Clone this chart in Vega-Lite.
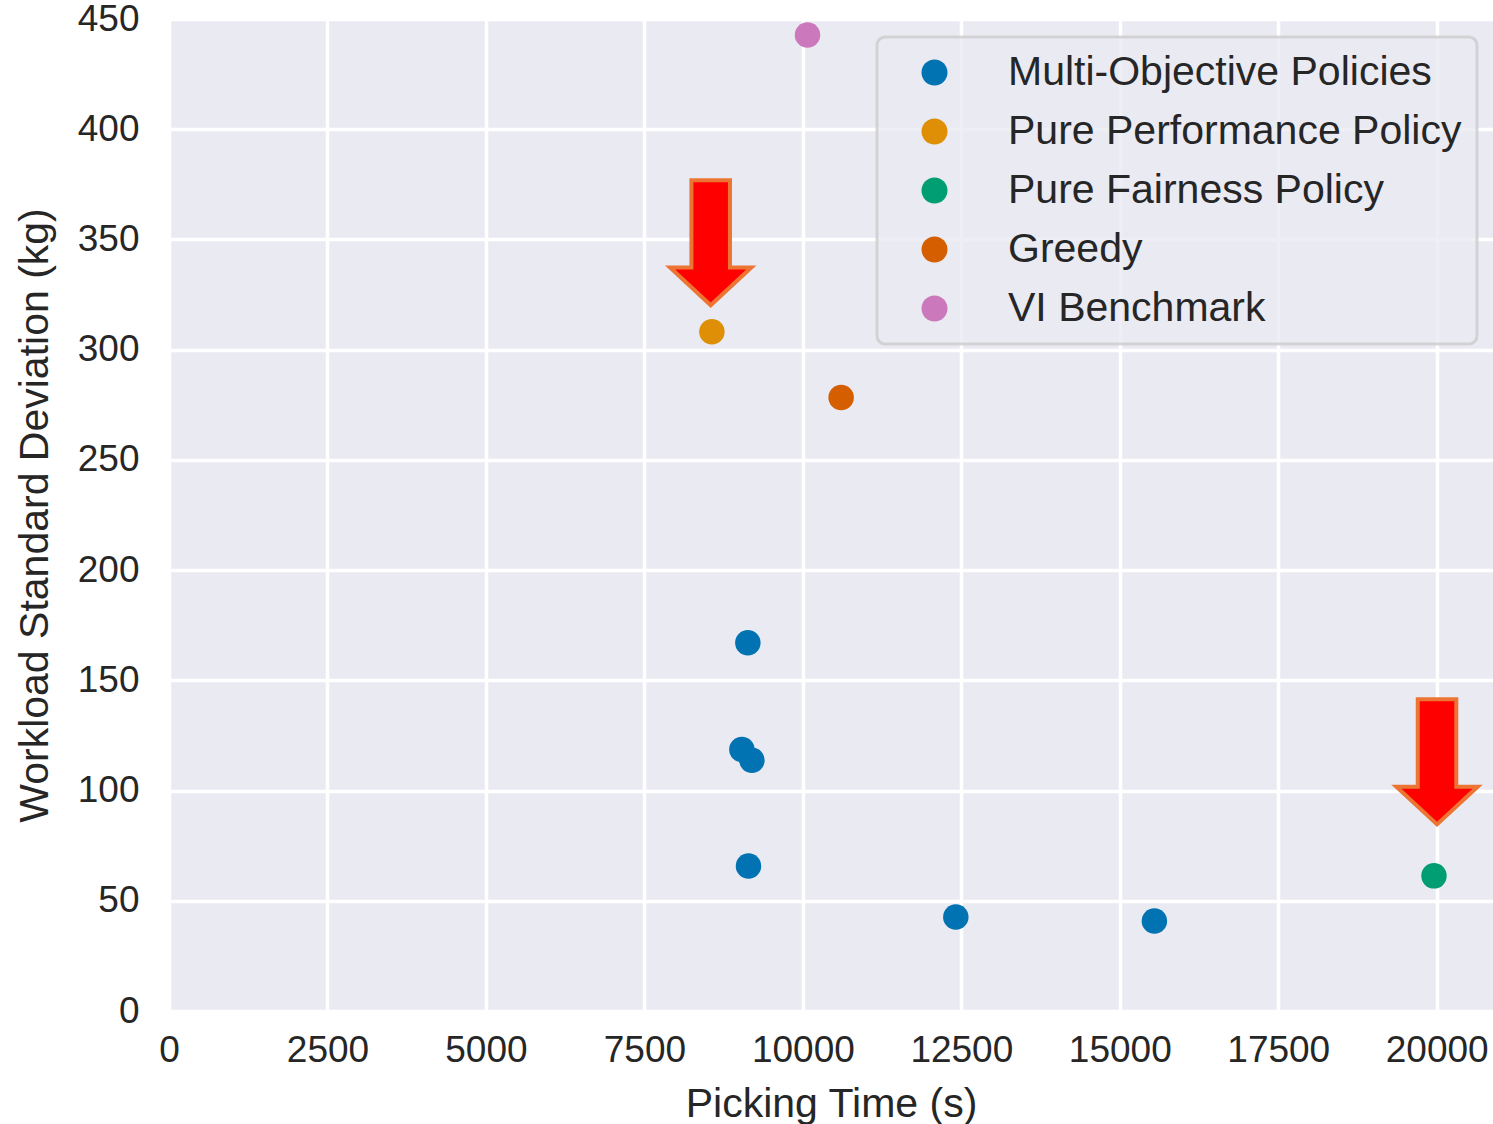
{
  "$schema": "https://vega.github.io/schema/vega-lite/v6.json",
  "width": 1324,
  "height": 992,
  "autosize": {"type": "none"},
  "padding": {"left": 169, "top": 19, "right": 0, "bottom": 113},
  "background": "white",
  "config": {
    "font": "Liberation Sans",
    "view": {"fill": "#EAEAF2", "stroke": null},
    "axis": {
      "domain": false,
      "ticks": false,
      "grid": true,
      "gridColor": "white",
      "gridWidth": 3.5,
      "labelFont": "Liberation Sans",
      "labelFontSize": 37,
      "labelColor": "#262626",
      "titleFont": "Liberation Sans",
      "titleFontSize": 41,
      "titleFontWeight": "normal",
      "titleColor": "#262626"
    },
    "legend": {
      "strokeWidth": 3
    }
  },
  "datasets": {
    "points": [
      {"time": 9132, "std": 167.0, "policy": "Multi-Objective Policies"},
      {"time": 9038, "std": 118.6, "policy": "Multi-Objective Policies"},
      {"time": 9196, "std": 113.7, "policy": "Multi-Objective Policies"},
      {"time": 9142, "std": 65.8, "policy": "Multi-Objective Policies"},
      {"time": 12413, "std": 42.6, "policy": "Multi-Objective Policies"},
      {"time": 15546, "std": 40.8, "policy": "Multi-Objective Policies"},
      {"time": 8565, "std": 308.1, "policy": "Pure Performance Policy"},
      {"time": 19957, "std": 61.3, "policy": "Pure Fairness Policy"},
      {"time": 10604, "std": 278.3, "policy": "Greedy"},
      {"time": 10073, "std": 442.7, "policy": "VI Benchmark"}
    ],
    "arrows": [
      {"time": 8546, "std": 348.3},
      {"time": 20005, "std": 112.8}
    ]
  },
  "layer": [
    {
      "data": {"name": "points"},
      "mark": {"type": "point", "filled": true, "opacity": 1, "size": 650, "shape": "circle", "strokeWidth": 0},
      "encoding": {
        "x": {
          "field": "time", "type": "quantitative",
          "scale": {"domain": [0, 20888], "nice": false, "zero": false},
          "axis": {"values": [0, 2500, 5000, 7500, 10000, 12500, 15000, 17500, 20000], "format": "d", "labelPadding": 21, "titlePadding": 16, "title": "Picking Time (s)", "labelFlush": false}
        },
        "y": {
          "field": "std", "type": "quantitative",
          "scale": {"domain": [0, 450], "nice": false},
          "axis": {"values": [0, 50, 100, 150, 200, 250, 300, 350, 400, 450], "labelPadding": 30, "titlePadding": 21, "title": "Workload Standard Deviation (kg)", "labelFlush": false}
        },
        "color": {
          "field": "policy", "type": "nominal",
          "scale": {
            "domain": ["Multi-Objective Policies", "Pure Performance Policy", "Pure Fairness Policy", "Greedy", "VI Benchmark"],
            "range": ["#0173B2", "#DE8F05", "#029E73", "#D55E00", "#CC78BC"]
          },
          "legend": {
            "title": null,
            "orient": "none",
            "legendX": 708,
            "legendY": 18,
            "padding": 15,
            "symbolType": "circle",
            "symbolSize": 676,
            "symbolStrokeWidth": 0,
            "symbolOpacity": 1,
            "symbolOffset": 22,
            "labelOffset": 53,
            "labelFontSize": 41,
            "labelFont": "Liberation Sans",
            "labelColor": "#262626",
            "labelLimit": 700,
            "rowPadding": 17,
            "fillColor": "rgba(234,234,242,0.8)",
            "strokeColor": "rgba(204,204,204,0.8)",
            "cornerRadius": 8
          }
        }
      }
    },
    {
      "data": {"name": "arrows"},
      "mark": {
        "type": "point",
        "filled": true,
        "shape": "M-0.306,-1 L0.306,-1 L0.306,0.387 L0.645,0.387 L0,0.985 L-0.645,0.387 L-0.306,0.387 Z",
        "size": 15876,
        "fill": "#FF0000",
        "stroke": "#ED7534",
        "strokeWidth": 4,
        "strokeJoin": "miter",
        "opacity": 1,
        "fillOpacity": 1,
        "strokeOpacity": 1
      },
      "encoding": {
        "x": {"field": "time", "type": "quantitative"},
        "y": {"field": "std", "type": "quantitative"}
      }
    }
  ]
}
